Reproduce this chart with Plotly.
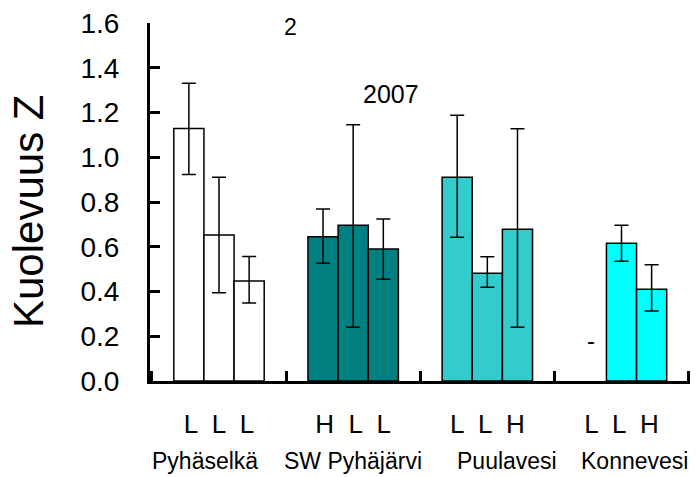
import plotly.graph_objects as go

groups = ["Pyhäselkä", "SW Pyhäjärvi", "Puulavesi", "Konnevesi"]
group_colors = ["#FFFFFF", "#008080", "#33CCCC", "#00FFFF"]
letters = [["L", "L", "L"], ["H", "L", "L"], ["L", "L", "H"], ["L", "L", "H"]]

# values per slot (slot 1,2,3) for each group
mean_slot1 = [1.128, 0.645, 0.911, None]
mean_slot2 = [0.653, 0.696, 0.482, 0.616]
mean_slot3 = [0.447, 0.590, 0.678, 0.410]
upper_slot1 = [1.331, 0.769, 1.188, None]
upper_slot2 = [0.911, 1.145, 0.555, 0.696]
upper_slot3 = [0.556, 0.724, 1.127, 0.519]
lower_slot1 = [0.923, 0.526, 0.643, None]
lower_slot2 = [0.394, 0.240, 0.419, 0.535]
lower_slot3 = [0.349, 0.455, 0.240, 0.313]

y_ticks = [0.0, 0.2, 0.4, 0.6, 0.8, 1.0, 1.2, 1.4, 1.6]
y_title = "Kuolevuus Z"
missing_mark = "-"
missing_mark_y = 0.18
note_top = "2"
note_year = "2007"

FONT = "Liberation Sans, Arial, sans-serif"

fig = go.Figure()
slots = [
    (mean_slot1, upper_slot1, lower_slot1),
    (mean_slot2, upper_slot2, lower_slot2),
    (mean_slot3, upper_slot3, lower_slot3),
]
for i, (m, u, l) in enumerate(slots):
    plus = [None if v is None else uu - v for v, uu in zip(m, u)]
    minus = [None if v is None else v - ll for v, ll in zip(m, l)]
    fig.add_trace(go.Bar(
        x=groups, y=m, name=f"slot{i+1}",
        marker=dict(color=group_colors, line=dict(color="black", width=1.5)),
        error_y=dict(type="data", symmetric=False, array=plus, arrayminus=minus,
                     color="black", thickness=1.5, width=7),
        showlegend=False, hoverinfo="skip",
    ))

ticktext = ["  ".join(ls) for ls in letters]

fig.update_layout(
    width=697, height=477,
    margin=dict(l=150, r=7, t=23, b=96),
    paper_bgcolor="white", plot_bgcolor="white",
    barmode="group", bargap=0.326, bargroupgap=0,
    font=dict(family=FONT, color="black"),
    xaxis=dict(
        type="category", showgrid=False, zeroline=False, automargin=False,
        showline=True, linecolor="black", linewidth=3,
        ticks="inside", ticklen=10, tickwidth=3, tickcolor="black",
        tickson="boundaries", tickvals=groups, ticktext=ticktext,
        tickfont=dict(size=26), ticklabelstandoff=18,
    ),
    yaxis=dict(
        range=[0, 1.6], showgrid=False, zeroline=False, automargin=False,
        showline=True, linecolor="black", linewidth=3,
        ticks="inside", ticklen=10, tickwidth=3, tickcolor="black",
        tickvals=y_ticks, ticktext=[f"{v:.1f}" for v in y_ticks],
        tickfont=dict(size=28), ticklabelstandoff=22,
    ),
)

name_shifts = [-14, 0, 20, 13]
for g, s in zip(groups, name_shifts):
    fig.add_annotation(x=g, xref="x", y=0, yref="paper", text=g, showarrow=False,
                       xshift=s, yshift=-95, xanchor="center", yanchor="bottom",
                       font=dict(size=23, family=FONT))

fig.add_annotation(xref="paper", x=0, yref="paper", y=0.5, text=y_title,
                   textangle=-90, showarrow=False, xanchor="center", yanchor="middle",
                   xshift=-122, yshift=-10, font=dict(size=42, family=FONT))

fig.add_annotation(x=3, xref="x", y=missing_mark_y, yref="y", text=missing_mark,
                   showarrow=False, xshift=-31, font=dict(size=24, family=FONT))

fig.add_annotation(xref="paper", x=0, yref="paper", y=1, text=note_top, showarrow=False,
                   xshift=140, yshift=-4, xanchor="center", yanchor="middle",
                   font=dict(size=23, family=FONT))
fig.add_annotation(xref="paper", x=0, yref="paper", y=1, text=note_year, showarrow=False,
                   xshift=241, yshift=-71, xanchor="center", yanchor="middle",
                   font=dict(size=25, family=FONT))

fig.write_html("out.html", config={"displayModeBar": False},
               post_script="document.body.style.margin='0';document.body.style.overflow='hidden';")
